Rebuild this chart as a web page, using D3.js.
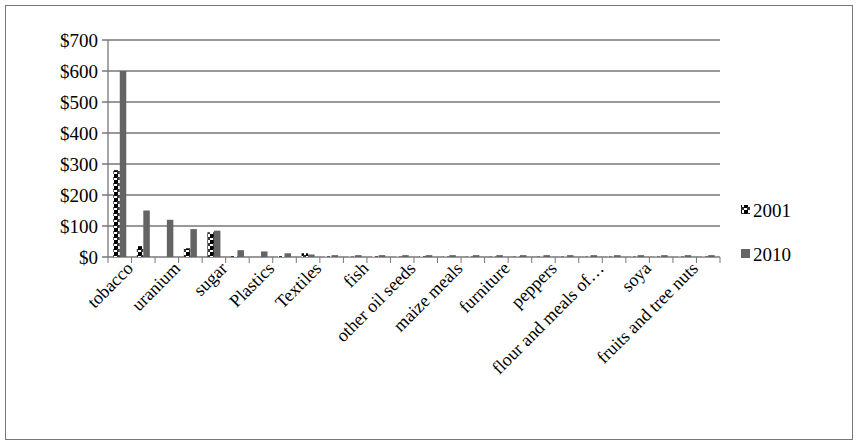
<!DOCTYPE html>
<html><head><meta charset="utf-8">
<script src="https://cdn.jsdelivr.net/npm/d3@7"></script>
<style>body{margin:0;background:#fff}text{font-family:"Liberation Serif",serif;}</style>
</head><body><svg id="c" width="858" height="447"></svg>
<script>
const categories=["tobacco","cotton","uranium","tea","sugar","coffee","Plastics","cut flowers","Textiles","wood","fish","hides","other oil seeds","groundnuts","maize meals","rice","furniture","beans","peppers","spices","flour and meals of…","vegetables","soya","wheat","fruits and tree nuts","other"];
const v2001=[280,35,0,28,80,3,0,3,12,2,1,2,1,2,1,1,1,1,1,1,1,1,1,1,1,1];
const v2010=[600,150,120,90,85,22,18,12,8,6,6,6,6,6,6,6,6,6,6,6,6,6,6,6,6,6];
const yTicks=[0,100,200,300,400,500,600,700];
const series=["2001","2010"];

const svg=d3.select("#c");
svg.append("rect").attr("x",5.5).attr("y",5.5).attr("width",847).attr("height",434).attr("fill","#fff").attr("stroke","#777");
const defs=svg.append("defs");
const p=defs.append("pattern").attr("id","dots").attr("width",6).attr("height",6).attr("patternUnits","userSpaceOnUse");
p.append("rect").attr("width",6).attr("height",6).attr("fill","#fff");
p.append("rect").attr("x",0).attr("y",0).attr("width",4).attr("height",4).attr("fill","#000");
p.append("rect").attr("x",3).attr("y",3).attr("width",3).attr("height",3).attr("fill","#333");

const L=108,R=720,T=40,B=257;
const x=d3.scaleBand().domain(categories).range([L,R]);
const y=d3.scaleLinear().domain([0,700]).range([B,T]);
const g=svg.append("g");
yTicks.forEach(t=>{
  g.append("line").attr("x1",L-6).attr("x2",R).attr("y1",y(t)).attr("y2",y(t)).attr("stroke","#777").attr("stroke-width",1.3);
  g.append("text").attr("x",L-10).attr("y",y(t)).attr("dy","0.35em").attr("text-anchor","end").attr("font-size",19).text("$"+t);
});
g.append("line").attr("x1",L).attr("x2",L).attr("y1",T).attr("y2",B).attr("stroke","#777").attr("stroke-width",1.3);
categories.forEach((c,i)=>{
  g.append("line").attr("x1",x(c)+x.bandwidth()).attr("x2",x(c)+x.bandwidth()).attr("y1",B).attr("y2",B+6).attr("stroke","#777");
});
g.append("line").attr("x1",L).attr("x2",L).attr("y1",B).attr("y2",B+6).attr("stroke","#777");
const bw=6.5;
categories.forEach((c,i)=>{
  const cx=x(c)+x.bandwidth()/2;
  g.append("rect").attr("x",cx-bw).attr("width",bw).attr("y",y(v2001[i])).attr("height",B-y(v2001[i])).attr("fill","url(#dots)");
  g.append("rect").attr("x",cx).attr("width",bw).attr("y",y(v2010[i])).attr("height",B-y(v2010[i])).attr("fill","#646464");
});
categories.forEach((c,i)=>{
  if(i%2) return;
  const cx=x(c)+x.bandwidth()/2+10;
  g.append("text").attr("transform",`translate(${cx},${B+8}) rotate(-45)`).attr("text-anchor","end").attr("dy","0.35em").attr("font-size",18).text(c);
});
const lg=svg.append("g");
lg.append("rect").attr("x",741).attr("y",205).attr("width",9).attr("height",9).attr("fill","url(#dots)");
lg.append("text").attr("x",753).attr("y",210).attr("dy","0.35em").attr("font-size",19).text(series[0]);
lg.append("rect").attr("x",741).attr("y",249).attr("width",9).attr("height",9).attr("fill","#646464");
lg.append("text").attr("x",753).attr("y",254).attr("dy","0.35em").attr("font-size",19).text(series[1]);
</script></body></html>
